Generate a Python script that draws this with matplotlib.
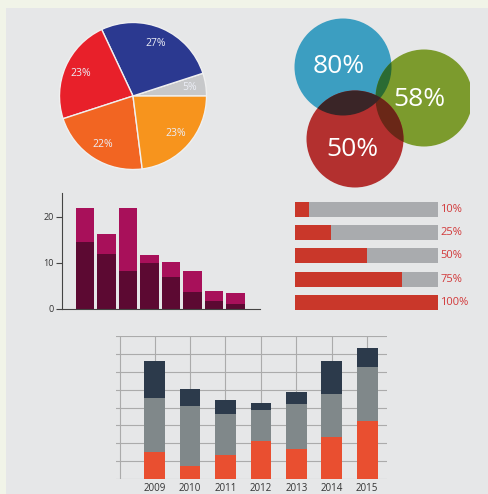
import numpy as np
import matplotlib
matplotlib.use("Agg")
import matplotlib.pyplot as plt
from matplotlib.patches import Circle, Rectangle

plt.rcParams['font.family'] = ['Open Sans', 'DejaVu Sans']

# pie data
pie_values = [5, 27, 23, 22, 23]
pie_colors = ['#c7c8ca', '#2b3990', '#e8202a', '#f26522', '#f7941d']

# circle labels
circle_labels = ['80%', '58%', '50%']

# maroon stacked bars
maroon_total = [22.0, 16.4, 22.0, 11.7, 10.3, 8.3, 3.9, 3.4]
maroon_dark = [14.6, 12.0, 8.3, 9.9, 6.9, 3.8, 1.8, 1.0]

# progress bars
progress = [10, 25, 50, 75, 100]

# bottom stacked chart
years = ['2009', '2010', '2011', '2012', '2013', '2014', '2015']
seg_orange = [1.49, 0.73, 1.34, 2.15, 1.70, 2.35, 3.25]
seg_gray = [3.02, 3.34, 2.28, 1.73, 2.52, 2.41, 3.00]
seg_navy = [2.09, 0.99, 0.80, 0.36, 0.65, 1.84, 1.06]

W, H = 488, 494
fig = plt.figure(figsize=(W / 100, H / 100), dpi=100)
fig.patch.set_facecolor('#f1f4e8')
fig.patches.append(Rectangle((6 / W, 0), 1, 1 - 8 / H, transform=fig.transFigure,
                             facecolor='#e6e7e8', edgecolor='none', zorder=-10))


def px_axes(left, top, right, bottom):
    ax = fig.add_axes([left / W, 1 - bottom / H, (right - left) / W, (bottom - top) / H])
    ax.set_facecolor('none')
    return ax


# ---- pie ----
ax = px_axes(58, 21, 208, 171)
wedges, _, autotexts = ax.pie(pie_values, colors=pie_colors, startangle=0, counterclock=True,
                              autopct='%d%%', pctdistance=0.78, radius=1,
                              wedgeprops=dict(edgecolor='#f0f0f0', linewidth=1.0))
for t in autotexts:
    t.set_color('#eceef6')
    t.set_fontsize(7.5)
ax.set_xlim(-1.02, 1.02)
ax.set_ylim(-1.02, 1.02)

# ---- overlapping circles ----
ax = px_axes(285, 12, 470, 197)
ax.set_xlim(285, 470)
ax.set_ylim(197, 12)
ax.axis('off')
centers = [(343, 67), (424, 98), (355, 139)]
radius = 48.5
cols = ['#3c9ec1', '#7c9b2d', '#b3302f']
circles = []
for c, col in zip(centers, cols):
    p = Circle(c, radius, facecolor=col, edgecolor='none')
    ax.add_patch(p)
    circles.append(p)
# overlaps
p = Circle(centers[1], radius, facecolor='#2b6b33', edgecolor='none')
ax.add_patch(p)
p.set_clip_path(circles[0])
p = Circle(centers[2], radius, facecolor='#6a2717', edgecolor='none')
ax.add_patch(p)
p.set_clip_path(circles[1])
p = Circle(centers[2], radius, facecolor='#3a2527', edgecolor='none')
ax.add_patch(p)
p.set_clip_path(circles[0])
text_pos = [(339, 66), (419, 99), (352, 149)]
for (x, y), lab in zip(text_pos, circle_labels):
    ax.text(x, y, lab, color='white', fontsize=19, ha='center', va='center')

# ---- maroon bar chart ----
ax = px_axes(62, 193, 260, 309)
xi = np.arange(len(maroon_total))
ax.bar(xi, maroon_total, width=0.84, color='#a8105a')
ax.bar(xi, maroon_dark, width=0.84, color='#5c0932')
ax.set_xlim(-1.07, 8.14)
ax.set_ylim(0, 25.2)
ax.set_yticks([0, 10, 20])
ax.set_xticks([])
for s in ['top', 'right']:
    ax.spines[s].set_visible(False)
for s in ['left', 'bottom']:
    ax.spines[s].set_color('#444444')
    ax.spines[s].set_linewidth(0.8)
ax.tick_params(axis='y', length=4, width=0.8, color='#444444', labelsize=6.5,
               labelcolor='#333333', pad=2)

# ---- progress bars ----
ax = px_axes(295, 197.5, 438, 314)
yi = np.arange(len(progress))
ax.barh(yi, [100] * len(progress), height=0.64, color='#a9abae')
ax.barh(yi, progress, height=0.64, color='#c9372a')
ax.set_xlim(0, 100)
ax.set_ylim(4.5, -0.5)
ax.axis('off')
for y, v in zip(yi, progress):
    ax.text(101.5, y, f'{v}%', color='#d2393a', fontsize=8, ha='left', va='center',
            clip_on=False)

# ---- bottom stacked chart ----
ax = px_axes(116, 336, 387, 479)
xi = np.arange(len(years))
ax.set_xlim(-1.09, 6.56)
ax.set_ylim(0, 8)
for y in range(9):
    ax.axhline(y, color='#ababab', linewidth=0.8, zorder=0)
for x in xi:
    ax.axvline(x, color='#ababab', linewidth=0.8, zorder=0)
ax.axvline(-0.98, color='#ababab', linewidth=0.8, zorder=0)
ax.bar(xi, seg_orange, width=0.585, color='#e94f30', zorder=2)
ax.bar(xi, seg_gray, width=0.585, bottom=seg_orange, color='#80888a', zorder=2)
ax.bar(xi, seg_navy, width=0.585, bottom=np.add(seg_orange, seg_gray), color='#2c3a4b', zorder=2)
ax.set_xticks(xi)
ax.set_xticklabels(years)
ax.set_yticks([])
ax.tick_params(axis='x', length=0, labelsize=7, labelcolor='#333333', pad=3)
for s in ax.spines.values():
    s.set_visible(False)

fig.savefig('out.png', dpi=100, facecolor=fig.get_facecolor())
